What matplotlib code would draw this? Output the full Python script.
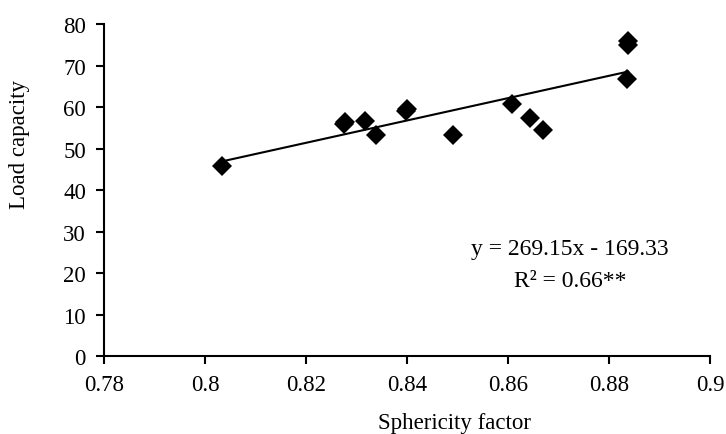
import matplotlib.pyplot as plt
import numpy as np

plt.rcParams['font.family'] = ['Liberation Serif', 'DejaVu Serif']

sphericity = [0.8034, 0.8276, 0.8278, 0.8316, 0.8339, 0.8398, 0.8400,
              0.8492, 0.8607, 0.8643, 0.8669, 0.8837, 0.8838, 0.8836]
load = [45.8, 56.0, 56.3, 56.7, 53.3, 59.0, 59.6,
        53.3, 60.8, 57.3, 54.4, 75.0, 76.0, 66.7]

slope = 269.15
intercept = -169.33

fs = 16.5

fig = plt.figure(figsize=(7.26, 4.35), dpi=100)
ax = fig.add_axes([0.1433, 0.1793, 0.8347, 0.7632])

ax.plot(sphericity, load, linestyle='none', marker='D', markersize=10.5,
        color='black', markeredgewidth=0)

xs = np.array([min(sphericity), max(sphericity)])
ax.plot(xs, slope * xs + intercept, color='black', linewidth=1.5)

ax.set_xlim(0.78, 0.9)
ax.set_ylim(0, 80)
ax.set_xticks([0.78, 0.8, 0.82, 0.84, 0.86, 0.88, 0.9])
ax.set_xticklabels(['0.78', '0.8', '0.82', '0.84', '0.86', '0.88', '0.9'])
ax.set_yticks(range(0, 81, 10))

for side in ['top', 'right']:
    ax.spines[side].set_visible(False)
for side in ['left', 'bottom']:
    ax.spines[side].set_linewidth(1.5)
ax.tick_params(direction='out', length=6, width=1.5, labelsize=fs)
ax.tick_params(axis='y', pad=7)
ax.tick_params(axis='x', pad=7)

# axis titles sit off-centre in the original, so place them on the figure
fig.text(455 / 726, 1 - 424 / 435, 'Sphericity factor', fontsize=fs,
         ha='center', va='center')
fig.text(20 / 726, 1 - 145 / 435, 'Load capacity', fontsize=fs,
         ha='center', va='center', rotation=90)

ax.text(0.8723, 25.8, 'y = 269.15x - 169.33', ha='center', va='center', fontsize=fs + 0.5)
ax.text(0.8723, 18.1, 'R² = 0.66**', ha='center', va='center', fontsize=fs + 0.5)

fig.savefig('out.png', dpi=100)
